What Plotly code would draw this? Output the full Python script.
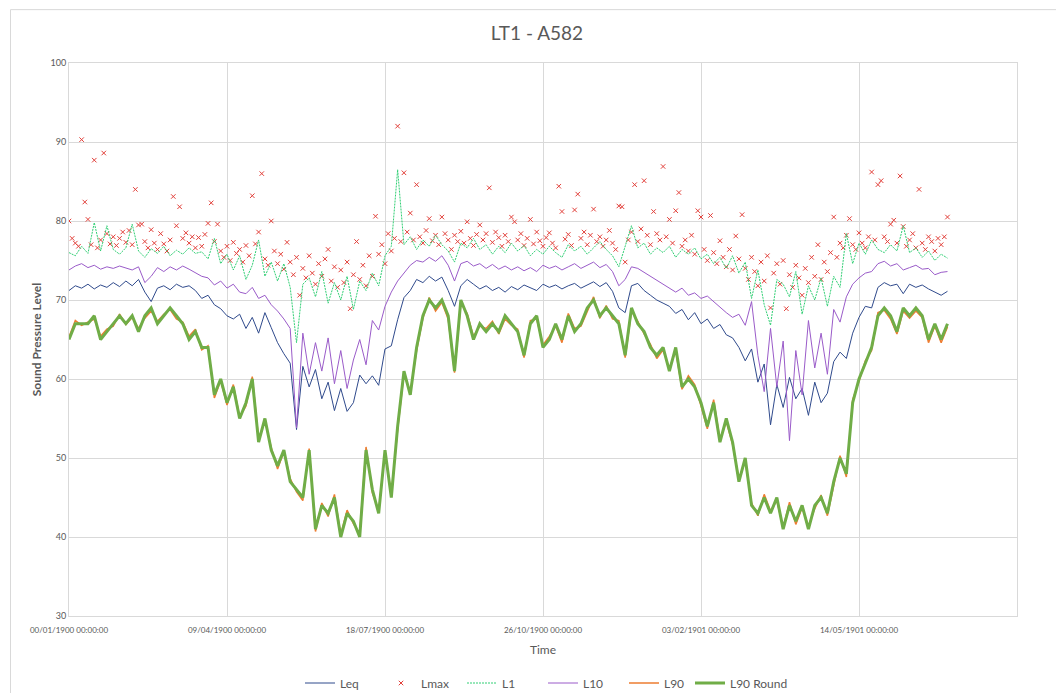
import plotly.graph_objects as go

# ---------------- data ----------------
line_days = list(range(0, 557, 4))
lmax_days = list(range(0, 557, 2))

tick_days = [0, 100, 200, 300, 400, 500, 600]
tick_labels = ["00/01/1900 00:00:00", "09/04/1900 00:00:00", "18/07/1900 00:00:00",
               "26/10/1900 00:00:00", "03/02/1901 00:00:00", "14/05/1901 00:00:00",
               "22/08/1901 00:00:00"]

leq = [71.2, 71.8, 71.5, 72.0, 71.4, 71.9, 71.6, 72.2, 71.7, 72.4,
       71.8, 72.6, 71.0, 69.8, 71.5, 71.8, 71.3, 72.0, 71.6, 71.8,
       71.2, 70.2, 70.6, 69.4, 68.9, 68.0, 67.6, 68.2, 66.4, 67.8,
       65.8, 68.4, 66.5, 64.6, 63.2, 62.0, 53.6, 61.6, 59.0, 61.2,
       57.5, 59.6, 56.0, 58.8, 55.9, 57.0, 60.5, 59.4, 60.4, 59.2,
       63.8, 64.2, 67.5, 70.3, 71.2, 72.6, 72.2, 73.0, 72.4, 72.9,
       71.2, 69.2, 71.8, 72.6, 72.0, 71.4, 71.8, 71.2, 71.6, 71.0,
       71.7, 71.3, 71.9, 71.5, 71.2, 72.0, 71.6, 71.9, 71.4, 71.8,
       72.1, 71.5, 71.9, 72.3, 71.7, 72.2, 71.1, 69.0, 68.4, 71.8,
       72.1, 71.2, 70.6, 70.0, 69.6, 69.2, 68.3, 68.8, 67.5, 68.4,
       67.0, 67.6, 66.4, 66.9, 65.6, 65.2, 64.0, 62.3, 63.8, 59.6,
       61.9, 54.2, 59.3, 56.4, 60.2, 57.5, 58.8, 55.4, 59.6, 57.0,
       58.2, 62.2, 63.4, 62.6, 65.8, 67.8, 69.2, 69.0, 71.6, 72.2,
       71.8, 72.0, 70.8, 72.0, 71.6, 71.9, 71.4, 71.0, 70.6, 71.1]

l10 = [73.8, 74.3, 74.6, 74.1, 74.4, 73.9, 74.2, 74.0, 74.3, 74.0,
       73.8, 74.2, 72.2, 73.0, 74.1, 73.6, 74.2, 73.8, 74.3, 73.9,
       73.4, 73.0, 72.8, 71.9, 72.4, 71.5, 72.0, 71.0, 70.8, 71.6,
       70.2, 70.6, 69.4, 68.6, 67.6, 66.4, 53.8, 65.8, 60.6, 64.6,
       61.0, 65.2, 59.4, 63.6, 58.8, 62.4, 65.0, 61.8, 67.4, 66.2,
       69.2, 71.0, 72.4, 73.4, 74.4, 75.0, 74.8, 75.4, 74.9, 75.6,
       74.4, 72.4, 74.6, 74.9, 74.3, 74.6, 74.0, 74.5, 73.9, 74.3,
       73.8, 74.2, 73.7, 74.1, 73.6, 74.4, 74.0, 74.3, 73.8, 74.2,
       74.6, 74.0, 74.4, 74.8, 74.1, 74.5, 73.6, 71.8, 72.6, 74.2,
       74.0, 73.5, 73.0, 72.6, 72.0, 71.6, 71.0, 71.5, 70.6, 70.9,
       70.2, 70.5, 69.8, 69.0, 68.4, 67.8, 68.2, 66.8, 69.8, 63.0,
       58.4, 66.4, 59.0, 64.8, 52.2, 63.6, 58.0, 67.4, 61.4, 65.8,
       60.6, 68.8, 67.2, 70.4, 72.0, 72.8, 73.4, 73.6, 74.6, 74.9,
       74.3, 74.6, 73.8, 74.1, 74.4, 73.9, 74.0, 73.2, 73.5, 73.6]

l1 = [76.0, 75.6, 76.8, 75.9, 79.8, 76.2, 79.4, 76.4, 75.8, 76.6,
      79.6, 76.2, 75.4, 76.5, 75.9, 76.8, 75.6, 76.3, 75.8, 76.6,
      75.9, 76.1, 75.2, 77.8, 74.6, 75.8, 73.8, 75.6, 72.6, 74.4,
      77.6, 73.0, 74.8, 72.4, 74.6, 71.6, 64.6, 72.0, 72.8, 70.4,
      73.6, 69.6, 72.2, 70.0, 73.0, 68.8, 72.4, 71.2, 73.4, 71.8,
      75.6, 76.8, 86.5, 77.0, 78.0, 76.4, 77.6, 76.8, 78.2, 77.0,
      76.2, 74.8, 77.2, 76.6, 77.8, 76.4, 77.0, 75.8, 76.8, 76.0,
      77.2, 76.2, 76.9, 75.6, 76.4, 75.8, 76.8, 76.0, 75.4, 77.0,
      76.2, 76.8, 75.8, 76.6, 77.4, 76.4, 75.6, 74.2, 76.8, 79.4,
      76.6, 77.2, 75.8, 76.6, 76.0, 76.8, 75.4, 76.4, 75.8, 76.6,
      75.2, 75.8, 74.6, 75.4, 74.0, 75.6, 73.4, 74.8, 70.2, 73.8,
      69.4, 66.8, 72.6, 72.0, 70.4, 73.6, 68.2, 71.8, 70.0, 72.8,
      69.2, 73.0, 71.6, 78.4, 74.6, 77.2, 75.8, 77.6, 76.4, 76.0,
      77.0, 76.2, 79.4, 76.0, 76.6, 75.4, 76.2, 75.0, 75.8, 75.3]

l90 = [65.3, 67.4, 66.8, 67.2, 67.6, 65.4, 66.3, 66.7, 68.2, 66.9,
       67.8, 66.4, 67.7, 68.6, 67.3, 68.2, 68.8, 67.6, 67.2, 65.4,
       66.3, 63.7, 64.2, 57.6, 59.8, 56.7, 59.3, 55.2, 56.6, 60.3,
       52.4, 54.7, 51.3, 48.6, 50.8, 47.4, 45.7, 44.6, 51.2, 40.7,
       44.3, 42.6, 45.4, 40.3, 43.4, 41.7, 40.4, 51.4, 45.6, 43.3,
       50.7, 45.4, 53.6, 60.7, 58.3, 63.6, 67.7, 70.3, 68.6, 69.7,
       67.6, 60.8, 69.6, 68.3, 65.4, 66.7, 66.4, 67.3, 65.7, 67.6,
       66.8, 66.3, 62.7, 67.4, 67.6, 64.3, 65.4, 66.7, 64.6, 68.3,
       66.4, 66.7, 68.6, 70.4, 67.7, 69.3, 67.6, 67.4, 62.7, 68.6,
       67.3, 65.7, 64.4, 62.6, 63.7, 61.3, 63.6, 58.7, 60.4, 59.3,
       56.6, 53.7, 57.4, 52.3, 54.6, 51.7, 47.4, 49.6, 44.3, 42.7,
       45.4, 43.3, 44.6, 41.2, 44.4, 41.6, 43.7, 41.4, 43.6, 45.3,
       42.7, 46.6, 50.3, 47.6, 57.4, 59.7, 62.3, 63.6, 68.4, 68.7,
       67.6, 65.7, 68.6, 67.7, 68.6, 67.8, 64.6, 66.7, 64.6, 66.6]

l90_round = [65, 67, 67, 67, 68, 65, 66, 67, 68, 67,
             68, 66, 68, 69, 67, 68, 69, 68, 67, 65,
             66, 64, 64, 58, 60, 57, 59, 55, 57, 60,
             52, 55, 51, 49, 51, 47, 46, 45, 51, 41,
             44, 43, 45, 40, 43, 42, 40, 51, 46, 43,
             51, 45, 54, 61, 58, 64, 68, 70, 69, 70,
             68, 61, 70, 68, 65, 67, 66, 67, 66, 68,
             67, 66, 63, 67, 68, 64, 65, 67, 65, 68,
             66, 67, 69, 70, 68, 69, 68, 67, 63, 69,
             67, 66, 64, 63, 64, 61, 64, 59, 60, 59,
             57, 54, 57, 52, 55, 52, 47, 50, 44, 43,
             45, 43, 45, 41, 44, 42, 44, 41, 44, 45,
             43, 47, 50, 48, 57, 60, 62, 64, 68, 69,
             68, 66, 69, 68, 69, 68, 65, 67, 65, 67]

lmax = [80.0, 77.8, 77.2, 76.8, 90.3, 82.4, 80.2, 77.0, 87.7, 76.6,
        77.6, 88.6, 78.4, 77.1, 78.0, 76.9, 77.8, 78.6, 77.3, 78.8,
        77.0, 84.0, 79.5, 79.6, 77.4, 76.6, 78.9, 77.2, 76.4, 78.4,
        77.1, 76.2, 77.6, 83.1, 79.4, 81.8, 77.8, 78.5, 77.2, 78.0,
        76.6, 77.9, 76.8, 78.3, 79.7, 82.3, 77.4, 79.6, 76.2, 75.4,
        76.8, 75.0, 77.3, 75.9, 76.4, 74.8, 76.9, 75.6, 83.2, 77.1,
        78.6, 86.0, 75.2, 74.4, 80.0, 76.2, 74.6, 75.8, 73.9, 77.3,
        74.8, 73.2, 75.4, 70.6, 74.0, 72.8, 75.6, 73.4, 72.0, 74.6,
        73.0, 75.2, 76.4, 72.4, 74.2, 71.6, 73.8, 72.2, 74.8, 68.9,
        73.2, 77.4, 72.6, 74.4, 71.8, 75.6, 73.0, 80.6, 75.8, 77.0,
        74.6, 78.4, 76.2, 77.8, 92.0, 77.4, 86.1, 78.6, 81.0, 77.6,
        84.6, 78.0, 77.2, 78.8, 80.3, 77.5, 78.2, 77.0, 80.5, 78.4,
        77.6, 76.4, 78.2, 77.4, 78.7, 77.2, 79.9, 77.8, 76.9, 78.3,
        79.5, 77.6, 78.4, 84.2, 77.3, 78.6, 77.9, 76.8, 78.2, 77.4,
        80.5, 79.9, 77.6, 78.4, 76.9, 77.8, 80.2, 77.1, 78.6, 77.5,
        76.8, 77.9, 78.5, 77.2, 76.6, 84.4, 81.2, 77.7, 78.3, 76.9,
        81.4, 83.4, 77.8, 78.6, 77.0, 78.2, 81.5, 77.4, 78.0, 76.8,
        77.6, 78.8, 77.2, 76.4, 81.9, 81.8, 74.8, 77.6, 78.6, 84.6,
        77.4, 79.0, 85.1, 78.2, 77.0, 81.2, 78.4, 77.6, 86.9, 78.0,
        80.2, 77.2, 81.3, 83.6, 76.8, 77.6, 76.2, 78.2, 75.8, 81.3,
        80.5, 76.4, 75.0, 80.7, 76.0, 74.6, 77.5, 75.4, 74.2, 76.4,
        73.8, 78.1, 75.2, 80.8, 74.0, 72.6, 75.4, 73.6, 71.8, 74.8,
        72.4, 75.6, 69.0, 73.4, 74.6, 72.0, 75.0, 68.9, 73.2, 71.6,
        74.4, 72.8, 70.6, 74.0, 72.2, 75.4, 73.0, 77.0, 72.6, 74.8,
        73.6, 76.0, 80.5, 75.4, 77.2, 76.6, 78.2, 80.3, 77.0, 76.4,
        78.5, 77.2, 76.6, 78.0, 86.2, 77.6, 84.6, 85.1, 78.0, 77.4,
        79.6, 80.1, 77.2, 85.7, 79.3, 76.8, 77.6, 78.4, 76.6, 84.0,
        77.2, 76.4, 78.0, 77.4, 76.2, 77.8, 77.0, 78.0, 80.5]

# ---------------- figure ----------------
TXT = "#595959"
GRID = "#d9d9d9"
FONT = "Lato"

fig = go.Figure()
fig.add_trace(go.Scatter(x=line_days, y=leq, mode="lines", name="Leq",
                         line=dict(color="#2f4a8c", width=1)))
fig.add_trace(go.Scatter(x=lmax_days, y=lmax, mode="markers", name="Lmax",
                         marker=dict(symbol="x-thin", size=4.5, color="#e2403a",
                                     line=dict(width=1, color="#e2403a"))))
fig.add_trace(go.Scatter(x=line_days, y=l1, mode="lines", name="L1",
                         line=dict(color="#30cf74", width=1, dash="2px,1px")))
fig.add_trace(go.Scatter(x=line_days, y=l10, mode="lines", name="L10",
                         line=dict(color="#9a5bc9", width=1)))
fig.add_trace(go.Scatter(x=line_days, y=l90, mode="lines", name="L90",
                         line=dict(color="#ed7d31", width=1.5)))
fig.add_trace(go.Scatter(x=line_days, y=l90_round, mode="lines", name="L90 Round",
                         legend="legend2",
                         line=dict(color="#70ad47", width=3)))

legend_common = dict(orientation="h", yref="container", y=1 - 683 / 693,
                     yanchor="middle", xref="container", xanchor="left",
                     font=dict(family=FONT, size=12, color=TXT),
                     bgcolor="rgba(0,0,0,0)")

fig.update_layout(
    width=1056, height=693,
    margin=dict(l=69, r=39, t=63, b=77, autoexpand=False),
    paper_bgcolor="white", plot_bgcolor="white",
    font=dict(family=FONT, color=TXT),
    title=dict(text="LT1 - A582", x=0.5085, xanchor="center", y=1 - 33 / 693,
               yanchor="middle", yref="container",
               font=dict(family=FONT, size=19, color=TXT)),
    showlegend=True,
    legend=dict(legend_common, x=300 / 1056, entrywidth=36, entrywidthmode="pixels"),
    legend2=dict(legend_common, x=690 / 1056),
    shapes=[dict(type="rect", xref="paper", yref="paper",
                 x0=-0.0617, x1=1.2, y0=-0.3, y1=1.0965,
                 line=dict(color=GRID, width=1), fillcolor="rgba(0,0,0,0)", layer="below")],
)

fig.update_xaxes(range=[0, 600], tickvals=tick_days, ticktext=tick_labels,
                 showgrid=True, gridcolor=GRID, gridwidth=1, zeroline=False,
                 showline=True, linecolor=GRID, mirror=True, ticks="",
                 automargin=False, ticklabelstandoff=6,
                 tickfont=dict(family=FONT, size=8, color=TXT),
                 title=dict(text="Time", standoff=12,
                            font=dict(family=FONT, size=12, color=TXT)))
fig.update_yaxes(range=[30, 100], dtick=10, tick0=30,
                 showgrid=True, gridcolor=GRID, gridwidth=1, zeroline=False,
                 showline=True, linecolor=GRID, mirror=True, ticks="",
                 automargin=False,
                 tickfont=dict(family=FONT, size=9, color=TXT),
                 title=dict(text="<b>Sound Pressure Level</b>", standoff=6,
                            font=dict(family=FONT, size=12, color=TXT)))

fig.write_html("out.html", config={"displayModeBar": False},
               post_script="document.body.style.margin='0';")
